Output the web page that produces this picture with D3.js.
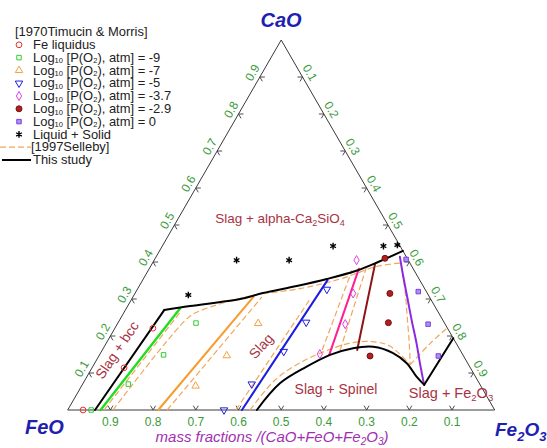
<!DOCTYPE html>
<html>
<head>
<meta charset="utf-8">
<script src="https://cdn.jsdelivr.net/npm/d3@7"></script>
<style>
  html, body { margin: 0; padding: 0; background: #fff; }
  svg { display: block; font-family: "Liberation Sans", Arial, Helvetica, sans-serif; }
</style>
</head>
<body>
<svg id="chart" width="547" height="448"></svg>
<script>
// All compositions are mass fractions given as [CaO, Fe2O3]; FeO = 1 - CaO - Fe2O3.

const tickValues = [0.1, 0.2, 0.3, 0.4, 0.5, 0.6, 0.7, 0.8, 0.9];
const tickLabels = ["0.1", "0.2", "0.3", "0.4", "0.5", "0.6", "0.7", "0.8", "0.9"];

// Timucin & Morris (1970) experimental points
const feLiquidus  = [[0.000, 0.036], [0.114, 0.075], [0.221, 0.089]];
const po2Minus9   = [[0.000, 0.055], [0.070, 0.107], [0.149, 0.150], [0.235, 0.183]];
const po2Minus7   = [[0.065, 0.267], [0.147, 0.299], [0.234, 0.329]];
const po2Minus5   = [[0.000, 0.366], [0.070, 0.396], [0.158, 0.427], [0.237, 0.440], [0.326, 0.444]];
const po2Minus3p7 = [[0.151, 0.515], [0.232, 0.534], [0.315, 0.511], [0.405, 0.474]];
const po2Minus2p9 = [[0.146, 0.635], [0.236, 0.633], [0.315, 0.597], [0.410, 0.538]];
const po2Zero     = [[0.146, 0.795], [0.232, 0.728], [0.320, 0.661], [0.407, 0.589]];
const liquidSolid = [[0.311, 0.127], [0.405, 0.193], [0.405, 0.316], [0.443, 0.400], [0.443, 0.518], [0.446, 0.549]];

// This study: liquidus boundaries
const bccLiquidus      = [[0.000, 0.064], [0.270, 0.091]];
const c2sLiquidus      = [[0.270, 0.091], [0.281, 0.146], [0.300, 0.254], [0.316, 0.299], [0.335, 0.369],
                          [0.354, 0.430], [0.377, 0.489], [0.400, 0.527], [0.430, 0.570]];
const spinelLiquidus   = [[0.000, 0.443], [0.072, 0.461], [0.117, 0.501], [0.149, 0.540], [0.167, 0.585],
                          [0.171, 0.630], [0.154, 0.685], [0.127, 0.730], [0.090, 0.772], [0.068, 0.801]];
const hematiteLiquidus = [[0.068, 0.801], [0.194, 0.806]];

// This study: oxygen isobars
const isoMinus9   = [[0.000, 0.077], [0.275, 0.126]];
const isoMinus7   = [[0.000, 0.212], [0.306, 0.282]];
const isoMinus5   = [[0.000, 0.408], [0.351, 0.433]];
const isoMinus3p7 = [[0.149, 0.538], [0.382, 0.491]];
const isoMinus2p9 = [[0.162, 0.597], [0.393, 0.523]];
const isoZero     = [[0.072, 0.798], [0.126, 0.762], [0.180, 0.727], [0.243, 0.684], [0.306, 0.642],
                     [0.360, 0.606], [0.414, 0.571]];

// Selleby (1997) assessment
const selleby1 = [[0.000, 0.085], [0.268, 0.132]];
const selleby2 = [[0.000, 0.106], [0.249, 0.157], [0.268, 0.176], [0.308, 0.273], [0.328, 0.380],
                  [0.354, 0.461], [0.389, 0.532], [0.397, 0.582]];
const selleby3 = [[0.000, 0.233], [0.305, 0.302]];
const selleby4 = [[0.000, 0.394], [0.303, 0.418]];
const selleby5 = [[0.162, 0.515], [0.378, 0.477]];
const selleby6 = [[0.162, 0.557], [0.384, 0.507]];
const selleby7 = [[0.397, 0.582], [0.324, 0.628], [0.252, 0.669], [0.180, 0.710], [0.122, 0.741]];
const selleby8 = [[0.122, 0.741], [0.180, 0.759], [0.222, 0.778]];
const selleby9 = [[0.000, 0.427], [0.081, 0.445], [0.132, 0.485], [0.162, 0.529], [0.181, 0.571],
                  [0.185, 0.620], [0.173, 0.668], [0.122, 0.741]];

const legendRows = [
  "[1970Timucin & Morris]", "Fe liquidus", "-9", "-7", "-5", "-3.7", "-2.9", "0",
  "Liquid + Solid", "[1997Selleby]", "This study"
];

// ---------------------------------------------------------------------------
const svg = d3.select("#chart");

// ternary frame: CaO apex on top, FeO bottom-left, Fe2O3 bottom-right
const x = d3.scaleLinear().domain([0, 1]).range([67.7, 494.7]);
const y = d3.scaleLinear().domain([0, 1]).range([410, 40]);
const px = d => x(d[1] + d[0] / 2);
const py = d => y(d[0]);

const straight = d3.line().x(px).y(py);
const smooth = d3.line().x(px).y(py).curve(d3.curveCatmullRom.alpha(0.5));

const C = {
  edge: "#3a3a3a", tick: "#3a9a3a", corner: "#1f1fb0", title: "#a22fb0", region: "#a8333f",
  red: "#e5322d", green: "#22dd22", orange: "#f89c2c", blue: "#1d1de0", pink: "#ff1f8e",
  darkred: "#8e1414", purple: "#8a2be2", dash: "#f2a65a", text: "#222"
};

// triangle
const corners = [[1, 0], [0, 0], [0, 1], [1, 0]];
svg.append("path").attr("d", straight(corners))
  .attr("fill", "none").attr("stroke", C.edge).attr("stroke-width", 1);

// ticks and tick labels
const arm = 5, off = 8.5;
const tg = svg.append("g").attr("fill", "none").attr("stroke", C.edge).attr("stroke-width", 0.9);
const lg = svg.append("g").attr("fill", C.tick).attr("font-size", 12);
tickValues.forEach((v, i) => {
  // bottom edge: FeO fraction
  const b = [0, 1 - v], bx = px(b), by = py(b);
  tg.append("path").attr("d", `M${bx - arm * 0.5},${by - arm * 0.866}L${bx},${by}L${bx + arm * 0.5},${by - arm * 0.866}`);
  lg.append("text").attr("x", bx).attr("y", by + 16).attr("text-anchor", "middle").text(tickLabels[i]);

  // left edge: CaO fraction
  const l = [v, 0], lx = px(l), ly = py(l);
  tg.append("path").attr("d", `M${lx + arm},${ly}L${lx},${ly}L${lx + arm * 0.5},${ly + arm * 0.866}`);
  lg.append("text")
    .attr("transform", `translate(${lx - off * 0.866},${ly - off * 0.5}) rotate(-60)`)
    .attr("text-anchor", "middle").attr("dominant-baseline", "central").text(tickLabels[i]);

  // right edge: Fe2O3 fraction
  const r = [1 - v, v], rx = px(r), ry = py(r);
  tg.append("path").attr("d", `M${rx - arm},${ry}L${rx},${ry}L${rx - arm * 0.5},${ry + arm * 0.866}`);
  lg.append("text")
    .attr("transform", `translate(${rx + off * 0.866},${ry - off * 0.5}) rotate(60)`)
    .attr("text-anchor", "middle").attr("dominant-baseline", "central").text(tickLabels[i]);
});

// Selleby dashed lines
const dashG = svg.append("g").attr("fill", "none").attr("stroke", C.dash)
  .attr("stroke-width", 1.2).attr("stroke-dasharray", "6,3");
[selleby1, selleby2, selleby3, selleby4, selleby5, selleby6, selleby7, selleby8, selleby9]
  .forEach(d => dashG.append("path").attr("d", smooth(d)));

// isobars
const solidG = svg.append("g").attr("fill", "none").attr("stroke-width", 2).attr("stroke-linecap", "round");
[[isoMinus9, C.green, 2.4], [isoMinus7, C.orange, 2], [isoMinus5, C.blue, 2],
 [isoMinus3p7, C.pink, 2], [isoMinus2p9, C.darkred, 2], [isoZero, C.purple, 2]]
  .forEach(([d, c, w]) => solidG.append("path").attr("d", smooth(d)).attr("stroke", c).attr("stroke-width", w));

// liquidus boundaries
[[bccLiquidus, straight], [c2sLiquidus, smooth], [spinelLiquidus, smooth], [hematiteLiquidus, straight]]
  .forEach(([d, gen]) => solidG.append("path").attr("d", gen(d)).attr("stroke", "#000").attr("stroke-width", 2));

// marker styles
const asterisk = d3.symbolAsterisk || d3.symbolCross;
const markerStyles = [
  { data: feLiquidus,  type: d3.symbolCircle,   size: 26, stroke: C.red,     fill: "none" },
  { data: po2Minus9,   type: d3.symbolSquare,   size: 20, stroke: "#33cc33", fill: "none" },
  { data: po2Minus7,   type: d3.symbolTriangle, size: 24, stroke: "#f5a040", fill: "none" },
  { data: po2Minus5,   type: d3.symbolTriangle, size: 24, stroke: C.blue,    fill: "none", rot: 180 },
  { data: po2Minus3p7, type: d3.symbolDiamond,  size: 24, stroke: "#e040e0", fill: "none" },
  { data: po2Minus2p9, type: d3.symbolCircle,   size: 28, stroke: "#7a1010", fill: "#b02020" },
  { data: po2Zero,     type: d3.symbolSquare,   size: 20, stroke: "#7b3fe4", fill: "#b28ef0" },
  { data: liquidSolid, type: asterisk,          size: 30, stroke: "#000",    fill: "none" }
];
const mg = svg.append("g");
markerStyles.forEach(s => {
  mg.selectAll(null).data(s.data).join("path")
    .attr("d", d3.symbol(s.type, s.size))
    .attr("transform", d => `translate(${px(d)},${py(d)}) rotate(${s.rot || 0})`)
    .attr("fill", s.fill).attr("stroke", s.stroke).attr("stroke-width", s.type === asterisk ? 1.4 : 1);
});

// text with subscripts
function rich(sel, parts, subSize, shift) {
  let down = false;
  parts.forEach(p => {
    const sub = Array.isArray(p);
    const t = sel.append("tspan").text(sub ? p[0] : p);
    if (sub && !down) { t.attr("dy", shift).attr("font-size", subSize); down = true; }
    else if (sub) { t.attr("font-size", subSize); }
    else if (down) { t.attr("dy", -shift); down = false; }
  });
  return sel;
}

// corner labels
const cornerStyle = (s, size) => s.attr("font-size", size).attr("font-weight", "bold")
  .attr("font-style", "italic").attr("fill", C.corner);
cornerStyle(svg.append("text"), 20).attr("x", 281).attr("y", 27).attr("text-anchor", "middle").text("CaO");
cornerStyle(svg.append("text"), 20).attr("x", 25).attr("y", 434).text("FeO");
rich(cornerStyle(svg.append("text"), 19).attr("x", 495).attr("y", 436), ["Fe", ["2"], "O", ["3"]], 13, 5);

// axis title
rich(svg.append("text").attr("x", 272).attr("y", 442).attr("text-anchor", "middle")
  .attr("font-size", 15).attr("font-style", "italic").attr("fill", C.title),
  ["mass fractions /(CaO+FeO+Fe", ["2"], "O", ["3"], ")"], 10, 3);

// phase-field labels
const rg = svg.append("g").attr("fill", C.region);
rich(rg.append("text").attr("x", 280).attr("y", 223).attr("text-anchor", "middle").attr("font-size", 13.5),
  ["Slag + alpha-Ca", ["2"], "SiO", ["4"]], 9, 3);
rg.append("text").attr("transform", "translate(117,350) rotate(-56)").attr("text-anchor", "middle")
  .attr("dominant-baseline", "central").attr("font-size", 14).text("Slag + bcc");
rg.append("text").attr("transform", "translate(261,346) rotate(-48)").attr("text-anchor", "middle")
  .attr("dominant-baseline", "central").attr("font-size", 14).text("Slag");
rg.append("text").attr("x", 336).attr("y", 394).attr("text-anchor", "middle").attr("font-size", 14).text("Slag + Spinel");
rich(rg.append("text").attr("x", 451).attr("y", 398).attr("text-anchor", "middle").attr("font-size", 14.5),
  ["Slag + Fe", ["2"], "O", ["3"]], 9.5, 3);

// legend: rows are set in a compact face, widened slightly
const legStretch = 1.08;
const leg = svg.append("g");
const legText = leg.append("g").attr("transform", `scale(${legStretch},1)`)
  .attr("font-size", 12).attr("fill", C.text);
const rowY = i => 32 + i * 12.8;
const base = 4.3;
const rowX = [15, 33, 33, 33, 33, 33, 33, 33, 33, 31, 33];
legendRows.forEach((label, i) => {
  const t = legText.append("text").attr("x", rowX[i] / legStretch).attr("y", rowY(i) + base);
  if (i >= 2 && i <= 7) rich(t, ["Log", ["10"], " [P(O", ["2"], "), atm] = " + label], 7, 1.5);
  else t.text(label);
});

markerStyles.forEach((s, i) => {
  leg.append("path").attr("d", d3.symbol(s.type, s.size))
    .attr("transform", `translate(19,${rowY(i + 1)}) rotate(${s.rot || 0})`)
    .attr("fill", s.fill).attr("stroke", s.stroke).attr("stroke-width", s.type === asterisk ? 1.4 : 1);
});
leg.append("line").attr("x1", 0).attr("x2", 31).attr("y1", rowY(9)).attr("y2", rowY(9))
  .attr("stroke", C.dash).attr("stroke-width", 1.2).attr("stroke-dasharray", "6,3");
leg.append("line").attr("x1", 2).attr("x2", 31).attr("y1", rowY(10)).attr("y2", rowY(10))
  .attr("stroke", "#000").attr("stroke-width", 2);
</script>
</body>
</html>
